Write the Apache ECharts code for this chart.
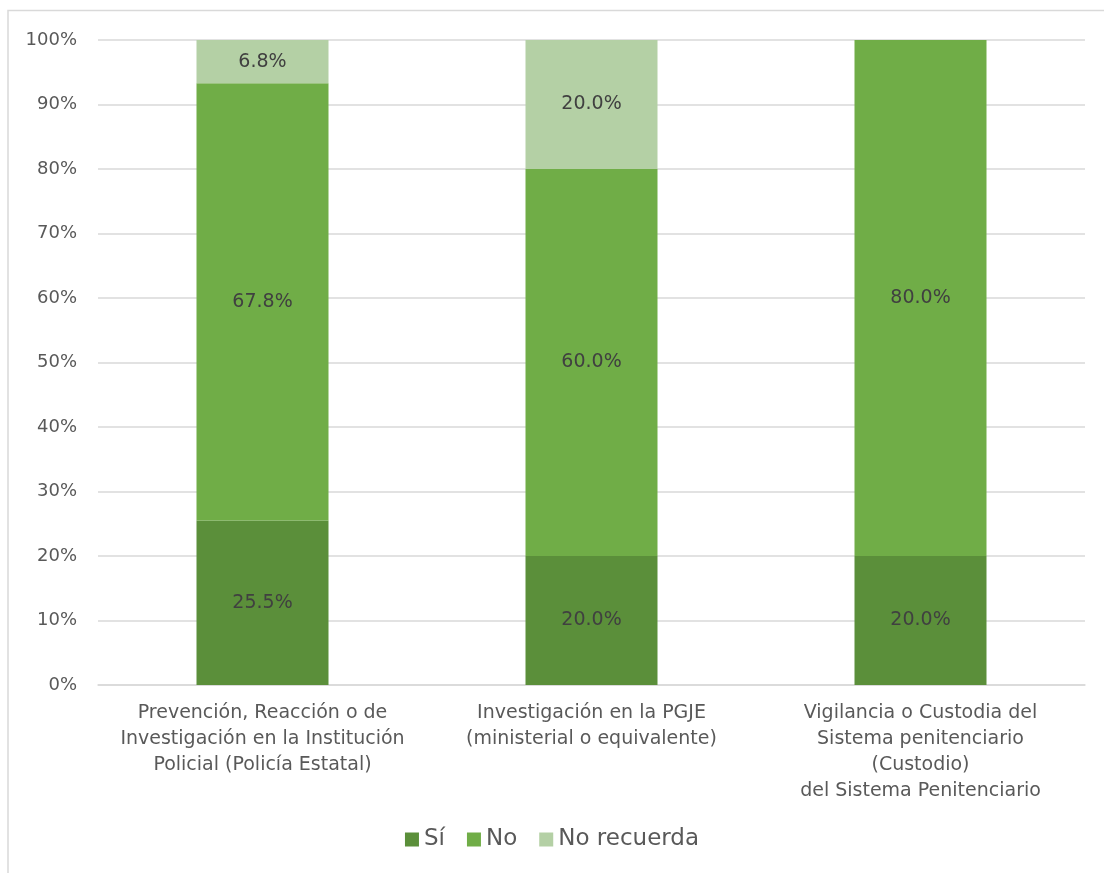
<!DOCTYPE html>
<html><head><meta charset="utf-8">
<script src="https://cdn.jsdelivr.net/npm/echarts@6/dist/echarts.min.js"></script>
<style>html,body{margin:0;padding:0;background:#fff;overflow:hidden}#c{width:1104px;height:873px}</style>
</head><body><div id="c"></div>
<script>
const categories = [
  "Prevención, Reacción o de\nInvestigación en la Institución\nPolicial (Policía Estatal)",
  "Investigación en la PGJE\n(ministerial o equivalente)",
  "Vigilancia o Custodia del\nSistema penitenciario\n(Custodio)\ndel Sistema Penitenciario"
];
const seriesNames = ["Sí", "No", "No recuerda"];
const si = [25.5, 20.0, 20.0];
const no = [67.8, 60.0, 80.0];
const noRecuerda = [6.8, 20.0, 0];
const colors = ["#5B8F3A", "#70AD47", "#B4D0A5"];
const FONT = "'Century Gothic', 'DejaVu Sans', sans-serif";

const chart = echarts.init(document.getElementById('c'), null, {renderer: 'canvas'});
const mk = (name, data, color) => ({
  name, type: 'bar', stack: 'total', data, barWidth: 132,
  itemStyle: {color},
  label: {
    show: true, position: 'inside', color: '#404040', fontSize: 19, fontFamily: FONT,
    formatter: p => p.value > 0 ? p.value.toFixed(1) + '%' : ''
  },
  emphasis: {disabled: true}
});
chart.setOption({
  animation: false,
  textStyle: {fontFamily: FONT},
  graphic: [{
    type: 'polyline', silent: true, z: -10,
    shape: {points: [[8, 880], [8, 10.5], [1110, 10.5]]},
    style: {fill: 'none', stroke: '#D9D9D9', lineWidth: 1.5}
  }],
  grid: {left: 98, right: 19, top: 40, bottom: 188, containLabel: false},
  legend: {
    bottom: 17, left: 'center', itemWidth: 14, itemHeight: 14, itemGap: 22,
    icon: 'rect',
    textStyle: {color: '#595959', fontSize: 23, fontFamily: FONT},
    data: seriesNames
  },
  xAxis: {
    type: 'category', data: categories,
    axisLine: {show: true, lineStyle: {color: '#D9D9D9', width: 1.5}},
    axisTick: {show: false},
    axisLabel: {color: '#595959', fontSize: 19, lineHeight: 26, margin: 15, interval: 0, fontFamily: FONT}
  },
  yAxis: {
    type: 'value', min: 0, max: 100, interval: 10,
    axisLine: {show: false}, axisTick: {show: false},
    splitLine: {lineStyle: {color: '#D9D9D9', width: 1.5}},
    axisLabel: {color: '#595959', fontSize: 18, margin: 21, formatter: v => v + '%', fontFamily: FONT}
  },
  series: [
    mk(seriesNames[0], si, colors[0]),
    mk(seriesNames[1], no, colors[1]),
    mk(seriesNames[2], noRecuerda, colors[2])
  ]
});
</script></body></html>
